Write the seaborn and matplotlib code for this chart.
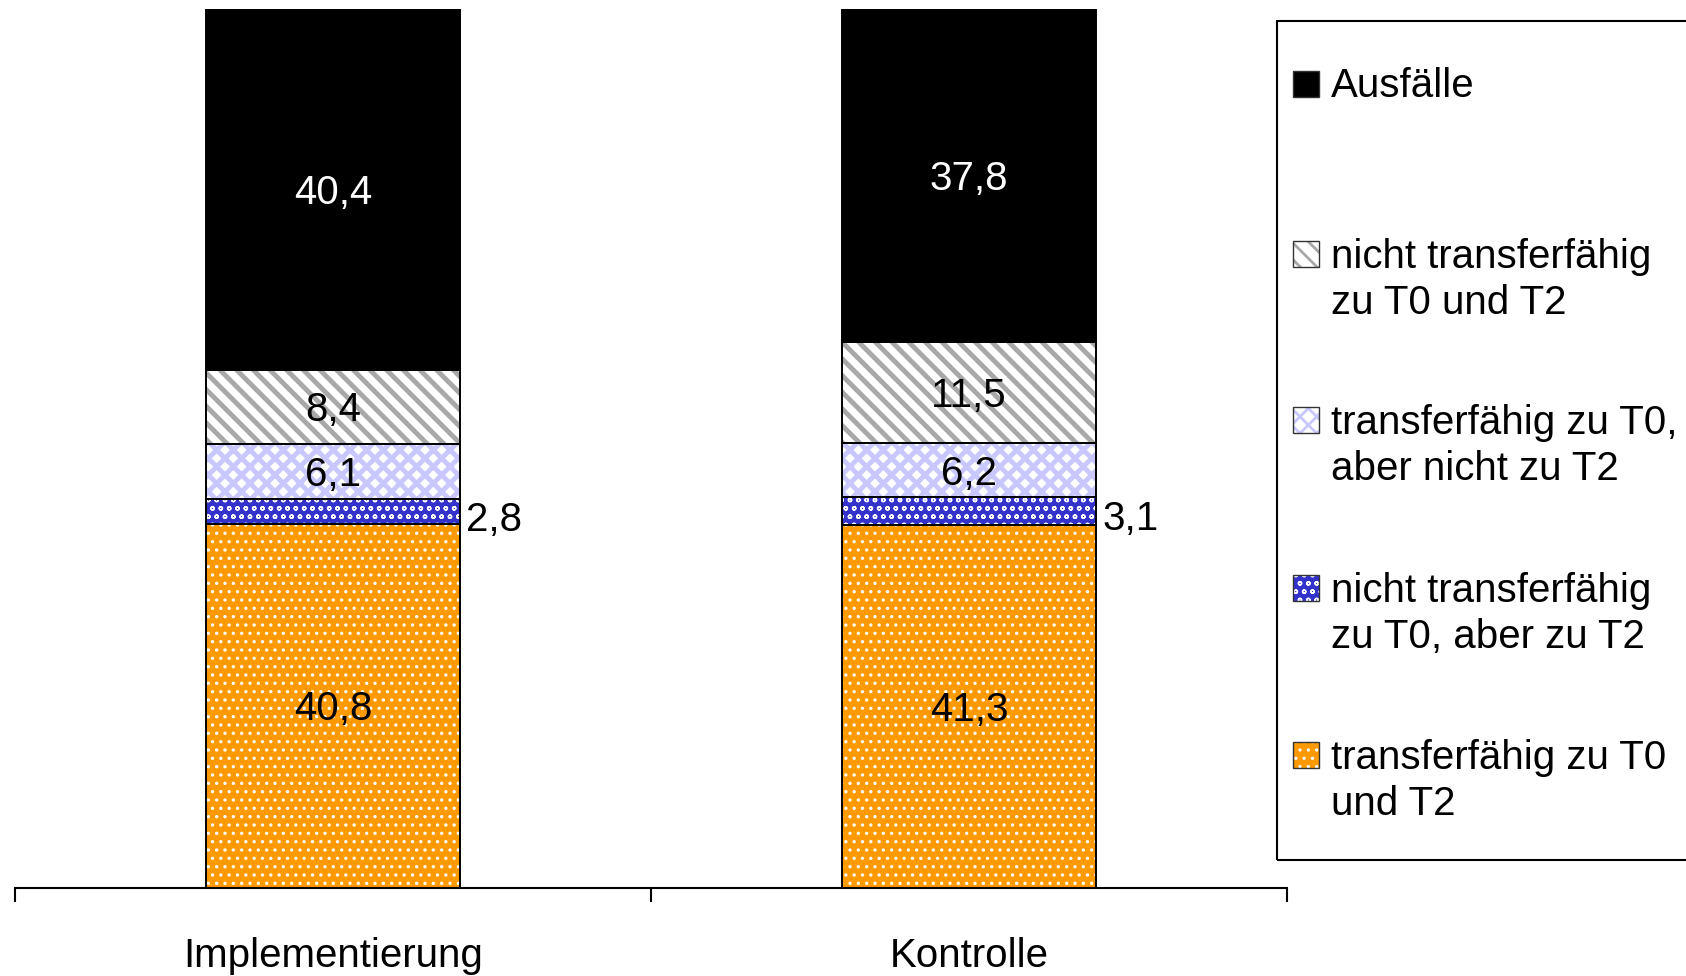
import numpy as np
import pandas as pd
import matplotlib as mpl
import matplotlib.pyplot as plt
import seaborn as sns
from matplotlib.patches import Rectangle

# --- data (percent values as printed in the chart) ---
groups = ["Implementierung", "Kontrolle"]
layer_names = [
    "transferfähig zu T0\nund T2",
    "nicht transferfähig\nzu T0, aber zu T2",
    "transferfähig zu T0,\naber nicht zu T2",
    "nicht transferfähig\nzu T0 und T2",
    "Ausfälle",
]
werte_impl = [40.8, 2.8, 6.1, 8.4, 40.4]
werte_kontrolle = [41.3, 3.1, 6.2, 11.5, 37.8]

# fill style per layer: face colour, hatch colour, hatch, hatch linewidth
styles = [
    ("#ff9900", "white", "..", 1.2),
    ("#3333cc", "white", "oo", 1.0),
    ("white", "#c8c8ff", "xx", 3.5),
    ("white", "#a8a8a8", "\\\\", 3.5),
    ("black", "black", "", 1.0),
]
label_colors = ["black", "black", "black", "black", "white"]

sns.set_style("white")
plt.rcParams["font.family"] = ["Liberation Sans", "DejaVu Sans"]
plt.rcParams["text.color"] = "black"
plt.rcParams["xtick.color"] = "black"
plt.rcParams["xtick.labelcolor"] = "black"
FS = 29

W, H = 1686, 976
fig = plt.figure(figsize=(W / 100, H / 100), dpi=100)
ax = fig.add_axes([15 / W, 1 - 888 / H, (1287 - 15) / W, (888 - 9) / H])

raw = np.array([werte_impl, werte_kontrolle])          # groups x layers
pct = raw / raw.sum(axis=1, keepdims=True) * 100        # 100 % stacked
bottoms = np.cumsum(pct, axis=1) - pct
xpos = np.arange(len(groups))
bar_w = 0.4

for k, name in enumerate(layer_names):
    face, hcol, hatch, hlw = styles[k]
    df = pd.DataFrame({"Gruppe": groups, "Anteil": pct[:, k]})
    n_before = len(ax.patches)
    with mpl.rc_context({"hatch.linewidth": hlw}):
        sns.barplot(data=df, x="Gruppe", y="Anteil", bottom=bottoms[:, k],
                    color=face, saturation=1, width=bar_w, errorbar=None,
                    edgecolor=hcol, linewidth=0, hatch=hatch, ax=ax)
    for p in ax.patches[n_before:]:
        if hasattr(p, "set_hatch_linewidth"):
            p.set_hatch_linewidth(hlw)

# black outlines on every segment
for k in range(len(layer_names)):
    ax.bar(xpos, pct[:, k], bottom=bottoms[:, k], width=bar_w, fill=False,
           edgecolor="black", linewidth=1.4, zorder=5)

# value labels
for i in range(len(groups)):
    for k in range(len(layer_names)):
        yc = bottoms[i, k] + pct[i, k] / 2
        txt = f"{raw[i, k]:.1f}".replace(".", ",")
        if k == 1:
            ax.annotate(txt, (xpos[i] + bar_w / 2, yc), xytext=(4.5, -6),
                        textcoords="offset points", ha="left", va="center",
                        fontsize=FS, color="black", zorder=6)
        else:
            ax.annotate(txt, (xpos[i], yc), xytext=(0, -2.5),
                        textcoords="offset points", ha="center", va="center",
                        fontsize=FS, color=label_colors[k], zorder=6)

ax.set_xlim(-0.5, len(groups) - 0.5)
ax.set_ylim(0, 100)
ax.set_xlabel("")
ax.set_ylabel("")
ax.set_yticks([])
for s in ["left", "top", "right"]:
    ax.spines[s].set_visible(False)
ax.spines["bottom"].set_color("black")
ax.spines["bottom"].set_linewidth(1.5)

ax.set_xticks(np.arange(len(groups) + 1) - 0.5)
ax.set_xticklabels([""] * (len(groups) + 1))
ax.tick_params(axis="x", which="major", length=10, width=1.5, color="black",
               direction="out", bottom=True)
ax.set_xticks(xpos, minor=True)
ax.set_xticklabels(groups, minor=True, fontsize=FS, color="black")
ax.tick_params(axis="x", which="minor", length=0, pad=35)

# legend drawn in figure pixels, top entry = last layer
frame = Rectangle((1277 / W, 1 - 860 / H), 0.3, (860 - 21) / H,
                  transform=fig.transFigure, fill=False, edgecolor="black",
                  linewidth=1.5, clip_on=False)
fig.add_artist(frame)
entry_y = [84, 254, 420, 588, 755]
line_step = 47
for j, k in enumerate(reversed(range(len(layer_names)))):
    face, hcol, hatch, hlw = styles[k]
    yc = entry_y[j]
    with mpl.rc_context({"hatch.linewidth": hlw}):
        sw = Rectangle((1293 / W, 1 - (yc + 13) / H), 26 / W, 26 / H,
                       transform=fig.transFigure, facecolor=face,
                       edgecolor=hcol, linewidth=0, hatch=hatch)
    if hasattr(sw, "set_hatch_linewidth"):
        sw.set_hatch_linewidth(min(hlw, 2.0))
    fig.add_artist(sw)
    fig.add_artist(Rectangle((1293 / W, 1 - (yc + 13) / H), 26 / W, 26 / H,
                             transform=fig.transFigure, fill=False,
                             edgecolor="#333333", linewidth=1.0))
    n_lines = layer_names[k].count("\n")
    base = yc + 13 + n_lines * line_step   # baseline of the last line
    fig.text(1331 / W, 1 - base / H, layer_names[k], fontsize=FS,
             ha="left", va="baseline", linespacing=1.27, color="black")

fig.savefig("out.png", dpi=100)
